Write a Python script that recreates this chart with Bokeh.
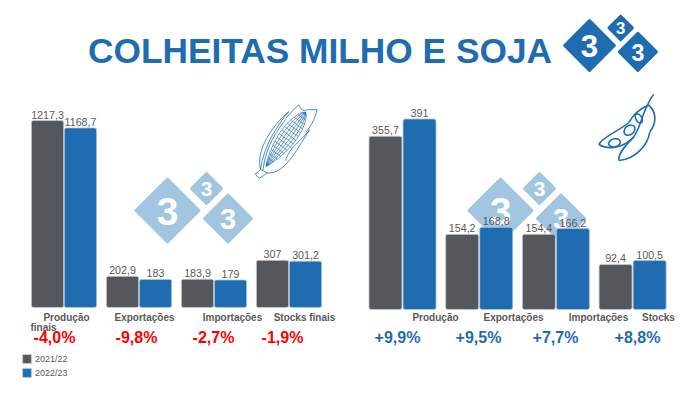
from bokeh.core.properties import value
from bokeh.embed import file_html
from bokeh.models import Legend, LegendItem, Range1d
from bokeh.plotting import figure
from bokeh.resources import INLINE
import numpy as np

BLUE = "#1f6cb0"
GREY = "#54575b"
PALE = "#a2c5e0"
TEXT = "#595959"
FONT = value("Liberation Sans")

seasons = ["2021/22", "2022/23"]

milho_2122 = [1217.3, 202.9, 183.9, 307]
milho_2223 = [1168.7, 183, 179, 301.2]
milho_change = ["-4,0%", "-9,8%", "-2,7%", "-1,9%"]

soja_2122 = [355.7, 154.2, 154.4, 92.4]
soja_2223 = [391, 168.8, 166.2, 100.5]
soja_change = ["+9,9%", "+9,5%", "+7,7%", "+8,8%"]

milho_labels = ["Produção", "Exportações", "Importações", "Stocks finais", "finais"]
soja_labels = ["Produção", "Exportações", "Importações", "Stocks"]

W, H = 684, 384


def fmt(values):
    return [str(v).replace(".", ",") for v in values]


# main ranges are the picture pixels, the two charts get their own extra ranges
p = figure(width=W, height=H, output_backend="svg", toolbar_location=None,
           x_range=Range1d(0, W), y_range=Range1d(H, 0),
           x_axis_location=None, y_axis_location=None, min_border=0,
           outline_line_color=None)
p.grid.visible = False


def chart_ranges(name, first_center, period, base_y, top_y, top_value):
    p.extra_x_ranges[name] = Range1d((0 - first_center) / period, (W - first_center) / period)
    per_px = top_value / (base_y - top_y)
    p.extra_y_ranges[name] = Range1d((base_y - H) * per_px, base_y * per_px)


chart_ranges("milho", 63.5, 75, 307, 120, 1217.3)
chart_ranges("soja", 402, 76.7, 309, 118.5, 391)


def logo(cx, cy, colour, scale):
    # three rounded diamonds with a 3 in each
    for dx, dy, hw, size in [(0, 0, 33, 39), (39, -22, 16.5, 21), (60.5, 8, 25, 29)]:
        x = cx + dx * scale
        y = cy + dy * scale
        r = hw * scale - 1.5
        p.patch([x - r, x, x + r, x], [y, y - r, y, y + r], fill_color=colour,
                line_color=colour, line_width=3, line_join="round")
        p.text([x], [y + 0.5], text=["3"], text_color="white", text_align="center",
               text_baseline="middle", text_font=FONT, text_font_style="bold",
               text_font_size=f"{size * scale:.1f}px")


logo(589, 45, BLUE, 0.8)
logo(167, 210, PALE, 1.0)
logo(500, 210, PALE, 1.0)


def bars(first, second, pct, pct_colour, name, half, width, pct_x):
    idx = list(range(len(first)))
    r1 = p.vbar([i - half for i in idx], top=first, bottom=0, width=width,
                fill_color=GREY, line_color="#c9ccd0", line_width=0.8, border_radius=2,
                x_range_name=name, y_range_name=name)
    r2 = p.vbar([i + half for i in idx], top=second, bottom=0, width=width,
                fill_color=BLUE, line_color="#a9c8e2", line_width=0.8, border_radius=2,
                x_range_name=name, y_range_name=name)
    for off, vals in [(-half, first), (half, second)]:
        p.text([i + off for i in idx], vals, text=fmt(vals), text_color=TEXT,
               text_font=FONT, text_font_size="10.7px", text_align="center",
               text_baseline="bottom", y_offset=-2,
               x_range_name=name, y_range_name=name)
    p.text(pct_x, [337] * len(pct), text=pct, text_color=pct_colour, text_font=FONT,
           text_font_style="bold", text_font_size="16px", text_align="center",
           text_baseline="middle")
    return r1, r2


r1, r2 = bars(milho_2122, milho_2223, milho_change, "#ff0000", "milho",
              0.22, 0.43, [54, 136, 213, 282])
bars(soja_2122, soja_2223, soja_change, BLUE, "soja",
     0.222, 0.43, [397, 478, 555, 637])

# category labels sit where the original put them, off-centre
p.text([66, 144, 232, 304, 43], [317, 317, 317, 317, 327], text=milho_labels,
       text_color=TEXT, text_font=FONT, text_font_style="bold", text_font_size="10px",
       text_align="center", text_baseline="middle")
p.text([435, 513, 598, 658], [317] * 4, text=soja_labels,
       text_color=TEXT, text_font=FONT, text_font_style="bold", text_font_size="10px",
       text_align="center", text_baseline="middle")

p.text([319.5], [50], text=["COLHEITAS MILHO E SOJA"], text_color=BLUE, text_font=FONT,
       text_font_style="bold", text_font_size="35.3px", text_align="center",
       text_baseline="middle")


# corn icon, points read in crop pixels of the picture
def corn_x(v):
    return 245 + np.asarray(v, dtype=float) / 3


def corn_y(v):
    return 95 + np.asarray(v, dtype=float) / 3


base = np.array([62.0, 212.0])
tip = np.array([180.0, 50.0])
axis = tip - base
perp = np.array([-axis[1], axis[0]]) / np.hypot(*axis)


def cob(u, v):
    w = 26 * np.sin(np.pi * np.clip(u, 0, 1) ** 1.25) ** 0.6
    pt = base + np.outer(u, axis) + np.outer(v * w, perp)
    return pt[:, 0], pt[:, 1]


xs, ys = [], []
vv = np.linspace(-1, 1, 40)
for uu in np.linspace(0.05, 0.97, 15):
    x, y = cob(np.full(40, uu), vv)
    xs.append(corn_x(x))
    ys.append(corn_y(y))
uu = np.linspace(0.0, 1.0, 40)
for v in np.linspace(-1, 1, 7):
    x, y = cob(uu, np.full(40, v))
    xs.append(corn_x(x))
    ys.append(corn_y(y))
p.multi_line(xs, ys, line_color=BLUE, line_width=0.7)

husks = [
    ((45, 222), (30, 165), (80, 90), (130, 48)),
    ((45, 222), (55, 150), (95, 90), (130, 48)),
    ((52, 225), (60, 170), (75, 130), (120, 72)),
    ((122, 68), (135, 50), (150, 38), (160, 28)),
    ((160, 28), (170, 50), (175, 45), (190, 42)),
    ((190, 42), (200, 44), (205, 42), (215, 42)),
    ((215, 42), (208, 70), (198, 90), (180, 112)),
    ((65, 232), (115, 238), (150, 170), (192, 103)),
    ((192, 103), (165, 140), (135, 150), (120, 195)),
    ((30, 234), (38, 230), (42, 226), (45, 222)),
    ((45, 222), (52, 226), (58, 228), (65, 232)),
    ((65, 232), (58, 238), (50, 244), (42, 248)),
    ((42, 248), (36, 244), (32, 240), (30, 234)),
]
p.bezier(corn_x([h[0][0] for h in husks]), corn_y([h[0][1] for h in husks]),
         corn_x([h[3][0] for h in husks]), corn_y([h[3][1] for h in husks]),
         corn_x([h[1][0] for h in husks]), corn_y([h[1][1] for h in husks]),
         corn_x([h[2][0] for h in husks]), corn_y([h[2][1] for h in husks]),
         line_color=BLUE, line_width=0.8)


# soybean icon
def soy_x(v):
    return 590 + np.asarray(v, dtype=float) / 3


def soy_y(v):
    return 88 + np.asarray(v, dtype=float) / 3


pods = [
    ((190, 18), (180, 28), (176, 38), (170, 52)),
    ((170, 52), (140, 65), (125, 85), (115, 102)),
    ((115, 102), (90, 125), (35, 145), (25, 168)),
    ((25, 168), (60, 190), (110, 170), (130, 145)),
    ((130, 145), (150, 115), (155, 78), (170, 52)),
    ((172, 48), (200, 70), (198, 105), (178, 130)),
    ((178, 130), (172, 170), (135, 212), (85, 216)),
    ((85, 216), (82, 195), (105, 170), (130, 145)),
]
p.bezier(soy_x([h[0][0] for h in pods]), soy_y([h[0][1] for h in pods]),
         soy_x([h[3][0] for h in pods]), soy_y([h[3][1] for h in pods]),
         soy_x([h[1][0] for h in pods]), soy_y([h[1][1] for h in pods]),
         soy_x([h[2][0] for h in pods]), soy_y([h[2][1] for h in pods]),
         line_color=BLUE, line_width=1.6)
p.ellipse(soy_x([72, 117, 145]), soy_y([163, 125, 90]), width=[12, 12, 6], height=[8, 9, 10],
          angle=[0.25, 0.7, 0.5], fill_color=None, line_color=BLUE, line_width=1.6)

legend = Legend(items=[LegendItem(label=seasons[0], renderers=[r1]),
                       LegendItem(label=seasons[1], renderers=[r2])],
                location=(21, 6), background_fill_alpha=0, border_line_color=None,
                padding=0, margin=0, spacing=3, glyph_width=11, glyph_height=11,
                label_text_font="Liberation Sans", label_text_font_size="9px",
                label_text_color=TEXT, label_standoff=3, label_height=11)
p.add_layout(legend)

open("out.html", "w").write(file_html(p, INLINE))
